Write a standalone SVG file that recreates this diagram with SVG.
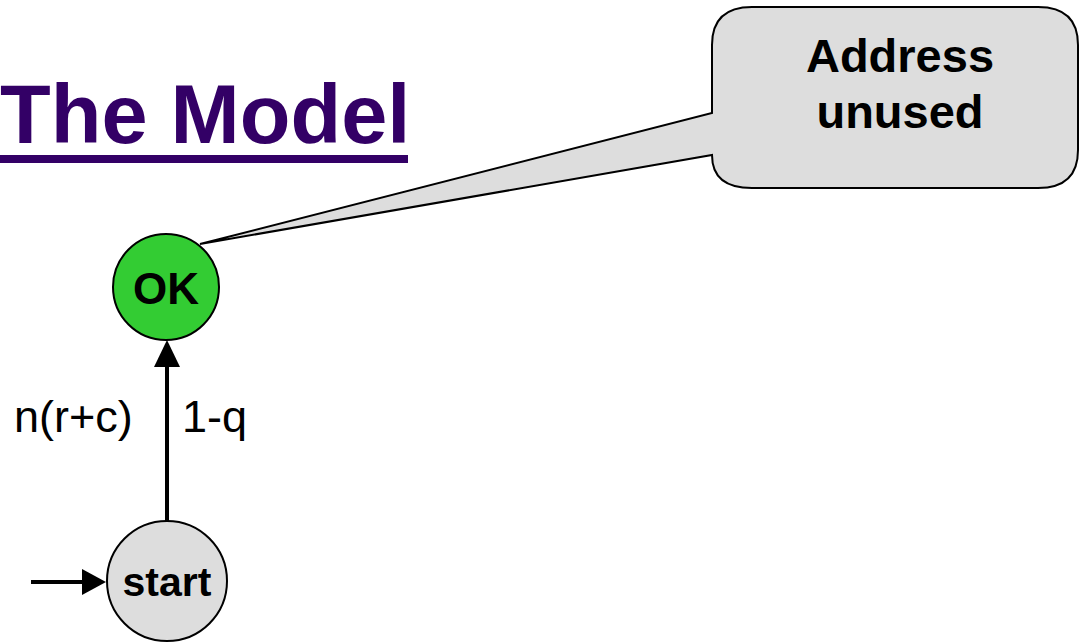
<svg xmlns="http://www.w3.org/2000/svg" width="1081" height="643" viewBox="0 0 1081 643">
  <style>
    .title { font-family: "Liberation Sans", Arial, sans-serif; font-weight: bold; font-size: 83px; fill: #330066; }
    .bold { font-family: "Liberation Sans", Arial, sans-serif; font-weight: bold; fill: #000; text-anchor: middle; }
    .label { font-family: "Liberation Sans", Arial, sans-serif; font-size: 45px; fill: #000; }
    .state { stroke: #000; stroke-width: 2; }
    .edge { stroke: #000; stroke-width: 4; fill: none; }
    .head { fill: #000; }
  </style>

  <rect width="1081" height="643" fill="#fff"/>

  <!-- heading -->
  <g id="title">
    <text class="title" x="0" y="143">The Model</text>
    <rect x="0" y="155" width="408" height="8" fill="#330066"/>
  </g>

  <!-- connectors -->
  <g id="connectors">
    <line class="edge" x1="167" y1="521" x2="167" y2="364"/>
    <polygon class="head" points="167,340 154,367 180,367"/>
    <line class="edge" x1="31" y1="582" x2="85" y2="582"/>
    <polygon class="head" points="106,582 82,569 82,595"/>
    <text class="label" x="14" y="432">n(r+c)</text>
    <text class="label" x="182" y="432">1-q</text>
  </g>

  <!-- callout -->
  <g id="callout">
    <path class="state" fill="#dddddd" d="M752,7 H1038 Q1078,7 1078,45 V150 Q1078,188 1038,188 H752 Q712,188 712,155 L200,244 L712,113 V45 Q712,7 752,7 Z"/>
    <text class="bold" x="900" y="72" font-size="47">Address</text>
    <text class="bold" x="900" y="128" font-size="47">unused</text>
  </g>

  <!-- OK state -->
  <g id="ok">
    <circle class="state" cx="166" cy="287" r="53" fill="#33cc33"/>
    <text class="bold" x="166" y="304" font-size="44">OK</text>
  </g>

  <!-- start state -->
  <g id="start">
    <circle class="state" cx="167" cy="581" r="60" fill="#dddddd"/>
    <text class="bold" x="167" y="596" font-size="41">start</text>
  </g>
</svg>
